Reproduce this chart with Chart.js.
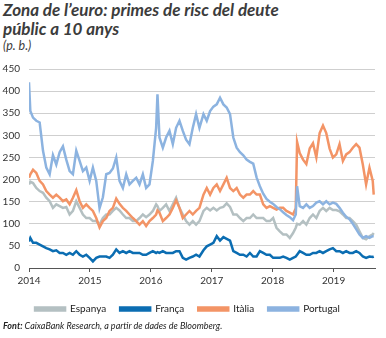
<!DOCTYPE html>
<html>
<head>
<meta charset="utf-8">
<script src="https://cdn.jsdelivr.net/npm/chart.js@4.4.0/dist/chart.umd.min.js"></script>
<style>
  body { margin: 0; width: 386px; height: 338px; background: #fff; position: relative; overflow: hidden; font-family: Lato, sans-serif; }
  #title { position: absolute; left: 3px; top: 0px; font-style: italic; font-weight: bold; font-size: 17px; line-height: 19px; color: #3c3c3c; }
  #unit { position: absolute; left: 3px; top: 38px; font-style: italic; font-size: 12.5px; color: #3c3c3c; }
  #wrap { position: absolute; left: 0; top: 54px; width: 386px; height: 270px; }
  #source { position: absolute; left: 3px; top: 320px; font-style: italic; font-size: 9px; color: #222; }
</style>
</head>
<body>
<div id="title">Zona de l’euro: primes de risc del deute<br>públic a 10 anys</div>
<div id="unit">(p. b.)</div>
<div id="wrap"><canvas id="chart"></canvas></div>
<div id="source"><b>Font:</b> CaixaBank Research, a partir de dades de Bloomberg.</div>
<script>
// dates as decimal years
const dates = [
  2014.000, 2014.022, 2014.066, 2014.120, 2014.175, 2014.230, 2014.284, 2014.339, 2014.393, 2014.448,
  2014.503, 2014.557, 2014.612, 2014.667, 2014.721, 2014.776, 2014.831, 2014.885, 2014.940, 2014.995,
  2015.049, 2015.104, 2015.158, 2015.213, 2015.268, 2015.322, 2015.377, 2015.432, 2015.486, 2015.541,
  2015.596, 2015.650, 2015.705, 2015.760, 2015.814, 2015.869, 2015.923, 2015.978, 2016.033, 2016.087,
  2016.109, 2016.142, 2016.197, 2016.251, 2016.306, 2016.361, 2016.415, 2016.470, 2016.525, 2016.579,
  2016.634, 2016.689, 2016.743, 2016.798,
  2016.864, 2016.918, 2016.973, 2017.027, 2017.082, 2017.136, 2017.191, 2017.245, 2017.300, 2017.354,
  2017.409, 2017.463, 2017.518, 2017.572, 2017.627, 2017.681, 2017.736, 2017.790, 2017.845, 2017.899,
  2017.954, 2018.008, 2018.063, 2018.117, 2018.172, 2018.226, 2018.281, 2018.335, 2018.379, 2018.401,
  2018.444, 2018.499, 2018.553, 2018.608, 2018.662, 2018.717, 2018.771, 2018.826, 2018.880, 2018.935,
  2018.989, 2019.044, 2019.098, 2019.153, 2019.207, 2019.262, 2019.316, 2019.371, 2019.425, 2019.480,
  2019.534, 2019.589, 2019.643, 2019.659
];

const espanya = [
  189, 195, 192, 181, 174, 170, 159, 151, 136, 144,
  140, 136, 138, 121, 129, 151, 136, 121, 113, 113,
  106, 106, 98, 113, 121, 121, 129, 136, 130, 121,
  113, 113, 106, 106, 113, 121, 115, 121, 129, 144,
  140, 129, 136, 144, 129, 144, 159, 136, 121, 106,
  98, 106, 98, 106,
  129, 136, 130, 136, 130, 136, 138, 146, 138, 121,
  121, 113, 106, 113, 113, 121, 113, 113, 113, 106,
  106, 113, 91, 83, 76, 76, 68, 79, 91, 100,
  98, 106, 98, 113, 121, 113, 129, 136, 129, 136,
  131, 131, 128, 121, 113, 113, 106, 98, 83, 68,
  65, 72, 76, 79
];

const franca = [
  60, 68, 57, 57, 53, 49, 45, 42, 38, 40,
  34, 34, 30, 34, 30, 38, 30, 26, 30, 23,
  15, 23, 26, 26, 26, 23, 30, 42, 34, 38,
  34, 38, 34, 34, 34, 30, 30, 34, 38, 34,
  36, 34, 38, 34, 34, 34, 38, 38, 23, 19,
  23, 26, 30, 26,
  40, 49, 53, 57, 72, 62, 70, 66, 62, 38,
  34, 30, 30, 26, 34, 26, 26, 38, 34, 30,
  30, 23, 23, 23, 26, 23, 19, 23, 26, 30,
  38, 34, 30, 30, 34, 34, 38, 34, 38, 42,
  45, 38, 38, 34, 38, 34, 34, 38, 34, 26,
  23, 26, 25, 26
];

const italia = [
  204, 212, 222, 215, 197, 189, 174, 166, 159, 166,
  159, 151, 155, 144, 159, 176, 151, 136, 144, 136,
  129, 113, 92, 106, 113, 129, 136, 157, 145, 136,
  129, 121, 113, 106, 98, 106, 95, 106, 113, 121,
  130, 125, 106, 113, 121, 136, 153, 136, 113, 121,
  129, 121, 129, 136,
  166, 181, 166, 181, 189, 174, 189, 204, 181, 174,
  181, 166, 159, 166, 166, 174, 166, 166, 144, 136,
  140, 136, 132, 136, 136, 129, 125, 121, 135, 285,
  260, 245, 235, 270, 282, 250, 305, 322, 305, 270,
  250, 257, 280, 242, 257, 262, 272, 280, 272, 234,
  189, 227, 197, 166
];

const portugal = [
  420, 355, 340, 333, 329, 265, 227, 212, 255, 234,
  262, 275, 245, 219, 212, 265, 242, 219, 227, 197,
  227, 197, 135, 160, 212, 215, 225, 250, 197, 181,
  212, 189, 197, 204, 189, 212, 181, 189, 242, 317,
  393, 295, 272, 295, 310, 280, 317, 333, 310, 290,
  280, 317, 348, 317,
  348, 333, 355, 365, 370, 385, 370, 363, 348, 295,
  272, 262, 255, 245, 240, 236, 205, 185, 168, 156,
  150, 145, 138, 133, 126, 120, 115, 108, 121, 185,
  140, 136, 144, 136, 140, 148, 151, 144, 151, 144,
  148, 145, 136, 125, 116, 110, 100, 88, 76, 68,
  72, 68, 72, 72
];

const yearTicks = [2014, 2015, 2016, 2017, 2018, 2019];

const toPoints = arr => dates.map((d, i) => ({ x: d, y: arr[i] }));

const ctx = document.getElementById('chart').getContext('2d');

const data = {
  datasets: [
    { label: 'Espanya', data: toPoints(espanya), borderColor: '#b4c0c2', backgroundColor: '#b4c0c2', order: 3 },
    { label: 'França', data: toPoints(franca), borderColor: '#0b6db2', backgroundColor: '#0b6db2', order: 2 },
    { label: 'Itàlia', data: toPoints(italia), borderColor: '#f39466', backgroundColor: '#f39466', order: 1 },
    { label: 'Portugal', data: toPoints(portugal), borderColor: '#8cb3e0', backgroundColor: '#8cb3e0', order: 0 }
  ]
};

const config = {
  type: 'line',
  data: data,
  options: {
    responsive: true,
    maintainAspectRatio: false,
    animation: false,
    elements: {
      point: { radius: 0 },
      line: { borderWidth: 2.5, tension: 0 }
    },
    layout: { padding: { left: 0, right: 11, top: 5, bottom: 0 } },
    scales: {
      x: {
        type: 'linear',
        min: 2014,
        max: 2019.68,
        afterBuildTicks: axis => { axis.ticks = yearTicks.map(v => ({ value: v })); },
        ticks: {
          color: '#333',
          font: { family: 'Lato', size: 10 },
          padding: 3,
          maxRotation: 0,
          callback: v => String(v)
        },
        grid: { drawOnChartArea: false, drawTicks: true, tickLength: 4, color: '#555' },
        border: { display: true, color: '#555', width: 1 }
      },
      y: {
        min: 0,
        max: 450,
        afterFit: axis => { axis.width = 29; },
        ticks: {
          stepSize: 50,
          color: '#333',
          font: { family: 'Lato', size: 10 },
          padding: 9
        },
        grid: { color: '#cfcfcf', drawTicks: false },
        border: { display: false }
      }
    },
    plugins: {
      legend: {
        position: 'bottom',
        labels: {
          boxWidth: 30,
          boxHeight: 3,
          padding: 14,
          color: '#222',
          font: { family: 'Lato', size: 10 },
          sort: (a, b) => a.datasetIndex - b.datasetIndex
        }
      },
      tooltip: { enabled: false }
    }
  }
};

new Chart(ctx, config);
</script>
</body>
</html>
